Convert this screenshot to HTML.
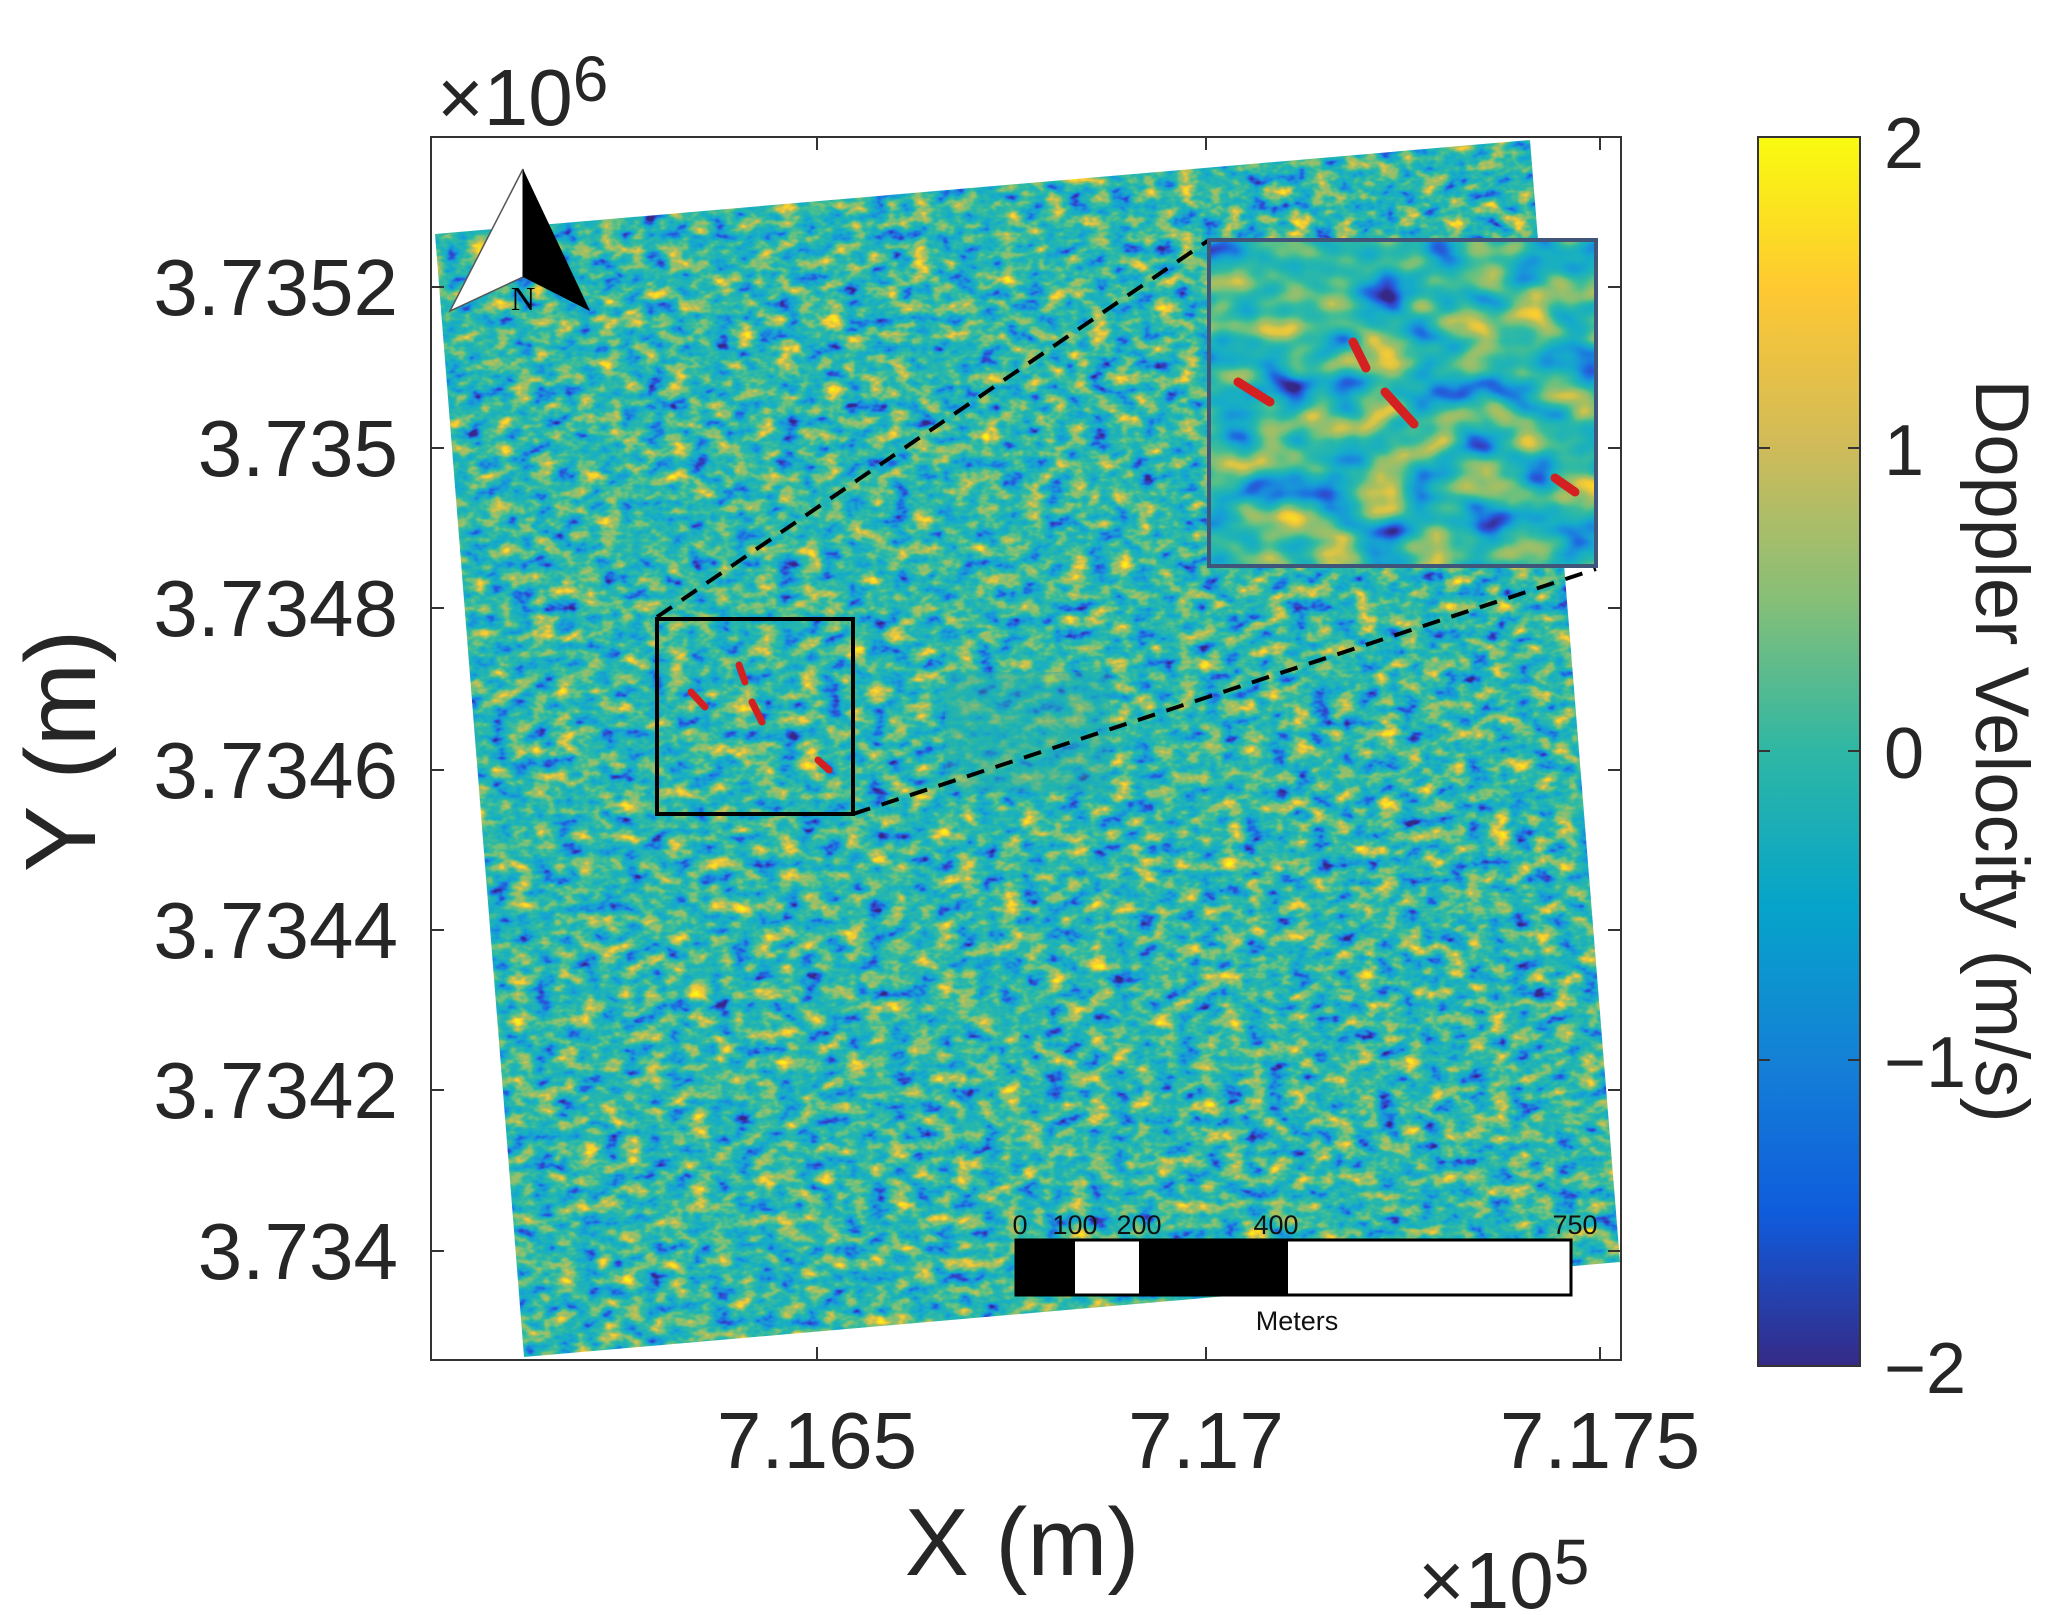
<!DOCTYPE html>
<html><head><meta charset="utf-8"><style>
html,body{margin:0;padding:0;background:#fff;}
svg{display:block;font-family:"Liberation Sans","DejaVu Sans",sans-serif;}
</style></head><body>
<svg width="2054" height="1615" viewBox="0 0 2054 1615" xmlns="http://www.w3.org/2000/svg">
<defs>
<filter id="par" x="0" y="0" width="100%" height="100%" color-interpolation-filters="sRGB">
<feTurbulence type="fractalNoise" baseFrequency="0.045 0.07" numOctaves="3" seed="4"/>
<feColorMatrix type="matrix" values="1 0 0 0 0  1 0 0 0 0  1 0 0 0 0  0 0 0 0 1"/>
<feComponentTransfer>
<feFuncR type="table" tableValues=".21 .21 .21 .21 .20 .12 .10 .09 .09 .12 .16 .24 .40 .55 .65 .85 .97 .98 .98 .98 .98"/>
<feFuncG type="table" tableValues=".16 .16 .16 .16 .28 .42 .55 .63 .68 .70 .72 .74 .76 .75 .75 .77 .80 .88 .95 .98 .98"/>
<feFuncB type="table" tableValues=".53 .53 .53 .53 .80 .88 .86 .83 .78 .72 .67 .60 .50 .45 .38 .28 .20 .12 .08 .05 .05"/>
</feComponentTransfer>
</filter>
<filter id="par2" x="0" y="0" width="100%" height="100%" color-interpolation-filters="sRGB">
<feTurbulence type="fractalNoise" baseFrequency="0.02 0.03" numOctaves="2" seed="9"/>
<feColorMatrix type="matrix" values="1 0 0 0 0  1 0 0 0 0  1 0 0 0 0  0 0 0 0 1"/>
<feComponentTransfer>
<feFuncR type="table" tableValues=".21 .21 .21 .21 .20 .12 .10 .09 .09 .12 .16 .24 .40 .55 .65 .85 .97 .98 .98 .98 .98"/>
<feFuncG type="table" tableValues=".16 .16 .16 .16 .28 .42 .55 .63 .68 .70 .72 .74 .76 .75 .75 .77 .80 .88 .95 .98 .98"/>
<feFuncB type="table" tableValues=".53 .53 .53 .53 .80 .88 .86 .83 .78 .72 .67 .60 .50 .45 .38 .28 .20 .12 .08 .05 .05"/>
</feComponentTransfer>
</filter>
<clipPath id="poly"><polygon points="435,234 1530,140 1620,1262 524,1357"/></clipPath>
<clipPath id="ax"><rect x="431" y="137" width="1190" height="1223"/></clipPath>
<linearGradient id="cb" x1="0" y1="1" x2="0" y2="0">
<stop offset="0" stop-color="#352a87"/><stop offset="0.125" stop-color="#0f5cdd"/>
<stop offset="0.25" stop-color="#1481d6"/><stop offset="0.375" stop-color="#06a4ca"/>
<stop offset="0.5" stop-color="#2eb7a4"/><stop offset="0.625" stop-color="#87bf77"/>
<stop offset="0.75" stop-color="#d1bb59"/><stop offset="0.875" stop-color="#fec832"/>
<stop offset="1" stop-color="#f9fb0e"/></linearGradient>
</defs>

<rect x="431" y="137" width="1190" height="1223" fill="#fff" stroke="#333" stroke-width="2"/>
<g clip-path="url(#ax)">
<g clip-path="url(#poly)">
<rect x="420" y="130" width="1210" height="1240" filter="url(#par)"/>
<rect x="945" y="672" width="165" height="120" fill="#22b0b0" opacity="0.45"/>
</g>
</g>
<g stroke="#333" stroke-width="2">
<line x1="817" y1="137" x2="817" y2="150"/><line x1="1206" y1="137" x2="1206" y2="150"/><line x1="1600" y1="137" x2="1600" y2="150"/>
<line x1="817" y1="1360" x2="817" y2="1347"/><line x1="1206" y1="1360" x2="1206" y2="1347"/><line x1="1600" y1="1360" x2="1600" y2="1347"/>
<line x1="431" y1="287" x2="444" y2="287"/><line x1="431" y1="448" x2="444" y2="448"/><line x1="431" y1="608" x2="444" y2="608"/><line x1="431" y1="770" x2="444" y2="770"/><line x1="431" y1="930" x2="444" y2="930"/><line x1="431" y1="1090" x2="444" y2="1090"/><line x1="431" y1="1251" x2="444" y2="1251"/>
<line x1="1621" y1="287" x2="1608" y2="287"/><line x1="1621" y1="448" x2="1608" y2="448"/><line x1="1621" y1="608" x2="1608" y2="608"/><line x1="1621" y1="770" x2="1608" y2="770"/><line x1="1621" y1="930" x2="1608" y2="930"/><line x1="1621" y1="1090" x2="1608" y2="1090"/><line x1="1621" y1="1251" x2="1608" y2="1251"/>
</g>

<line x1="657" y1="617" x2="1209" y2="240" stroke="#000" stroke-width="4" stroke-dasharray="18,12"/>
<line x1="853" y1="814" x2="1596" y2="569" stroke="#000" stroke-width="4" stroke-dasharray="18,12"/>
<rect x="657" y="619" width="196" height="195" fill="none" stroke="#000" stroke-width="4"/>
<g stroke="#d42020" stroke-width="7" stroke-linecap="round">
<line x1="691" y1="692" x2="705" y2="707"/><line x1="739" y1="665" x2="745" y2="682"/><line x1="752" y1="702" x2="762" y2="722"/><line x1="818" y1="760" x2="829" y2="770"/>
</g>
<svg x="1209" y="240" width="387" height="326"><rect width="387" height="326" filter="url(#par2)"/></svg>
<rect x="1209" y="240" width="387" height="326" fill="none" stroke="#40557a" stroke-width="4"/>
<g stroke="#d42020" stroke-width="9" stroke-linecap="round">
<line x1="1238" y1="382" x2="1270" y2="402"/><line x1="1353" y1="342" x2="1366" y2="368"/><line x1="1385" y1="392" x2="1414" y2="424"/><line x1="1555" y1="478" x2="1575" y2="492"/>
</g>

<polygon points="523,169 450,311 523,277" fill="#fff" stroke="#555" stroke-width="1.5"/>
<polygon points="523,169 590,311 523,277" fill="#000"/>
<text x="523" y="310" font-family="Liberation Serif,serif" font-size="34" text-anchor="middle" fill="#000">N</text>

<rect x="1016" y="1240" width="555" height="55" fill="#fff" stroke="#000" stroke-width="3"/>
<rect x="1016" y="1240" width="59" height="55" fill="#000"/>
<rect x="1139" y="1240" width="149" height="55" fill="#000"/>
<g font-size="27" fill="#111">
<text x="1020" y="1234" text-anchor="middle">0</text><text x="1075" y="1234" text-anchor="middle">100</text><text x="1139" y="1234" text-anchor="middle">200</text><text x="1276" y="1234" text-anchor="middle">400</text><text x="1575" y="1234" text-anchor="middle">750</text>
<text x="1297" y="1330" text-anchor="middle">Meters</text></g>

<g font-size="80" fill="#262626">
<g text-anchor="end">
<text x="398" y="315">3.7352</text><text x="398" y="476">3.735</text><text x="398" y="636">3.7348</text><text x="398" y="798">3.7346</text><text x="398" y="958">3.7344</text><text x="398" y="1118">3.7342</text><text x="398" y="1279">3.734</text>
</g>
<g text-anchor="middle">
<text x="817" y="1468">7.165</text><text x="1206" y="1468">7.17</text><text x="1600" y="1468">7.175</text>
</g>
<text x="437" y="125" font-size="80">×10<tspan font-size="64" dy="-24">6</tspan></text>
<text x="1418" y="1608" font-size="80">×10<tspan font-size="64" dy="-24">5</tspan></text>
<text x="1022" y="1575" font-size="96" text-anchor="middle">X (m)</text>
<text transform="translate(95,751) rotate(-90)" font-size="100" text-anchor="middle">Y (m)</text>
</g>

<rect x="1758" y="137" width="102" height="1229" fill="url(#cb)" stroke="#333" stroke-width="2"/>
<g stroke="#333" stroke-width="2">
<line x1="1758" y1="448" x2="1770" y2="448"/><line x1="1848" y1="448" x2="1860" y2="448"/>
<line x1="1758" y1="751" x2="1770" y2="751"/><line x1="1848" y1="751" x2="1860" y2="751"/>
<line x1="1758" y1="1060" x2="1770" y2="1060"/><line x1="1848" y1="1060" x2="1860" y2="1060"/>
</g>
<g font-size="72" fill="#262626">
<text x="1884" y="168">2</text><text x="1884" y="475">1</text><text x="1884" y="778">0</text><text x="1884" y="1087">−1</text><text x="1884" y="1393">−2</text>
<text transform="translate(1976,751) rotate(90)" font-size="76" text-anchor="middle">Doppler Velocity (m/s)</text>
</g>
</svg>
</body></html>
